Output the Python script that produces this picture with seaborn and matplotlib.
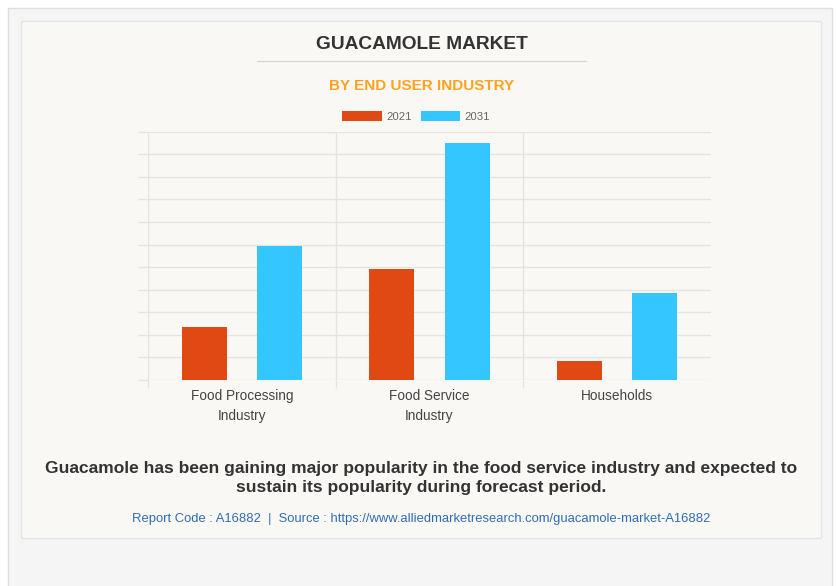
import pandas as pd
import matplotlib.pyplot as plt
import seaborn as sns
from matplotlib.patches import Rectangle, Patch
from matplotlib.lines import Line2D

sns.set_theme(style='white')
plt.rcParams['font.family'] = ['Liberation Sans', 'DejaVu Sans']

# 数据 (无刻度标签, 按网格单位读取)
industries = ['Food Processing\nIndustry', 'Food Service\nIndustry', 'Households']
years = ['2021', '2031']
values_2021 = [2.33, 4.92, 0.86]
values_2031 = [5.95, 10.51, 3.84]
colors = ['#E04814', '#33C6FF']

df = pd.DataFrame({
    'industry': industries * 2,
    'year': [years[0]] * 3 + [years[1]] * 3,
    'value': values_2021 + values_2031,
})

W, H = 836, 586
fig = plt.figure(figsize=(W / 100, H / 100), dpi=100, facecolor='white')


def fx(px):
    return px / W


def fy(py):
    return 1 - py / H


# 背景框
fig.patches.append(Rectangle((fx(7.5), fy(600)), fx(832 - 7.5), fy(7.5) - fy(600),
                             transform=fig.transFigure, facecolor='#f5f5f5',
                             edgecolor='#dedede', linewidth=1, zorder=-2))
fig.patches.append(Rectangle((fx(21), fy(538)), fx(821 - 21), fy(21) - fy(538),
                             transform=fig.transFigure, facecolor='#f9f8f4',
                             edgecolor='#e4e4e4', linewidth=1, zorder=-1))

ax = fig.add_axes([fx(148), fy(380), fx(711 - 148), fy(131.7) - fy(380)])
ax.set_facecolor('none')
ax.set_zorder(2)

sns.barplot(data=df, x='industry', y='value', hue='year', palette=colors,
            saturation=1, width=0.8, gap=0.4, linewidth=0, legend=False, ax=ax, zorder=3)

grid_c = '#e4e4e4'
ax.set_ylim(0, 11)
ax.set_xlim(-0.5, 2.5)
ax.set_yticks(range(0, 12))
ax.set_yticklabels([])
ax.set_axisbelow(True)
ax.grid(True, axis='y', color=grid_c, linewidth=1)
ax.set_xticks([-0.5, 0.5, 1.5], minor=True)
ax.grid(True, axis='x', which='minor', color=grid_c, linewidth=1)
ax.tick_params(axis='y', length=7.5, color=grid_c, width=1, left=True)
ax.tick_params(axis='x', which='minor', length=6, color=grid_c, width=1, bottom=True)
ax.tick_params(axis='x', which='major', length=0, pad=6.5, labelsize=9.8,
               labelcolor='#444444')
for lab in ax.get_xticklabels():
    lab.set_linespacing(1.55)
for s in ax.spines.values():
    s.set_visible(False)
ax.set_xlabel('')
ax.set_ylabel('')

# 标题
fig.text(fx(421.5), fy(44.5), 'GUACAMOLE MARKET', ha='center', va='center',
         fontsize=13.8, fontweight='bold', color='#333333')
fig.add_artist(Line2D([fx(257), fx(586)], [fy(61), fy(61)], transform=fig.transFigure,
                      color='#d8d8d8', linewidth=1))
fig.text(fx(421.5), fy(86), 'BY END USER INDUSTRY', ha='center', va='center',
         fontsize=11, fontweight='bold', color='#FFA21F')

handles = [Patch(facecolor=c, edgecolor='none', label=y) for c, y in zip(colors, years)]
fig.legend(handles=handles, loc='center', bbox_to_anchor=(fx(416), fy(116.5)), ncol=2,
           frameon=False, fontsize=8.2, labelcolor='#666666', handlelength=3.5,
           handleheight=1.0, handletextpad=0.35, columnspacing=0.8)

# 底部说明
fig.text(fx(421.5), fy(478), 'Guacamole has been gaining major popularity in the food service industry and expected to\n'
         'sustain its popularity during forecast period.', ha='center', va='center',
         fontsize=12.55, fontweight='bold', color='#333333', linespacing=1.3)
fig.text(fx(421.5), fy(519), 'Report Code : A16882  |  Source : https://www.alliedmarketresearch.com/guacamole-market-A16882',
         ha='center', va='center', fontsize=9.4, color='#2f6db5')

fig.savefig('out.png', dpi=100, facecolor='white')
